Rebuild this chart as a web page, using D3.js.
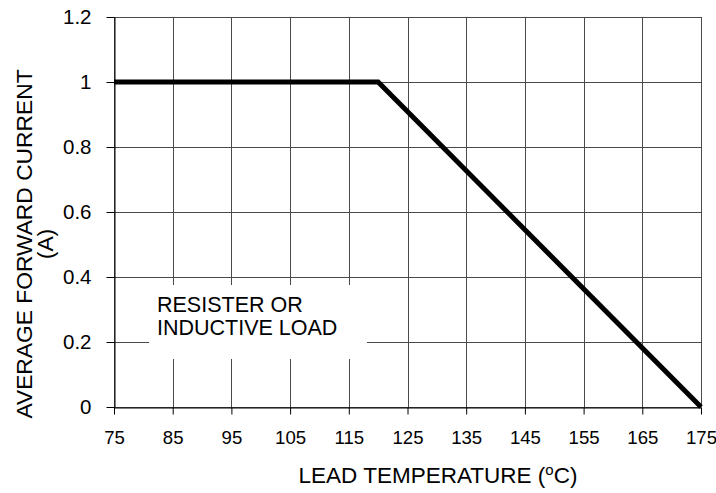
<!DOCTYPE html>
<html>
<head>
<meta charset="utf-8">
<script src="https://cdn.jsdelivr.net/npm/d3@7/dist/d3.min.js"></script>
<style>
  html, body { margin: 0; padding: 0; background: #fff; }
  svg { display: block; font-family: "Liberation Sans", Arial, sans-serif; }
</style>
</head>
<body>
<svg id="chart" width="716" height="493"></svg>
<script>
// ---- data ----
const xTicks = [75, 85, 95, 105, 115, 125, 135, 145, 155, 165, 175];
const yTicks = [0, 0.2, 0.4, 0.6, 0.8, 1, 1.2];
const yTickLabels = ["0", "0.2", "0.4", "0.6", "0.8", "1", "1.2"];
const leadTempC = [75, 120, 175];
const avgCurrentA = [1, 1, 0];
const xTitle = "LEAD TEMPERATURE (";
const yTitleLines = ["AVERAGE FORWARD CURRENT", "(A)"];
const noteLines = ["RESISTER OR", "INDUCTIVE LOAD"];

// ---- layout ----
const svg = d3.select("#chart");
const x = d3.scaleLinear().domain([75, 175]).range([114, 701]);
const y = d3.scaleLinear().domain([0, 1.2]).range([407, 17]);

const gridColor = "#4a4a4a";

// grid
const grid = svg.append("g");
grid.selectAll("line.v").data(xTicks).join("line")
  .attr("class", "v")
  .attr("x1", d => Math.round(x(d)) + 0.5).attr("x2", d => Math.round(x(d)) + 0.5)
  .attr("y1", y(1.2)).attr("y2", y(0))
  .attr("stroke", gridColor).attr("stroke-width", 1);
grid.selectAll("line.h").data(yTicks).join("line")
  .attr("class", "h")
  .attr("x1", x(75)).attr("x2", x(175))
  .attr("y1", d => Math.round(y(d)) + 0.5).attr("y2", d => Math.round(y(d)) + 0.5)
  .attr("stroke", gridColor).attr("stroke-width", 1);

// note box (white background)
svg.append("rect")
  .attr("x", 149).attr("y", 285).attr("width", 218).attr("height", 74)
  .attr("fill", "#fff");
svg.append("text")
  .attr("x", 157).attr("y", 312)
  .attr("font-size", 21.5).attr("fill", "#000")
  .selectAll("tspan").data(noteLines).join("tspan")
  .attr("x", 157).attr("dy", (d, i) => i === 0 ? 0 : 22.6)
  .text(d => d);

// axes
const xAxis = d3.axisBottom(x).tickValues(xTicks).tickFormat(d3.format("d"))
  .tickSizeInner(7).tickSizeOuter(0).tickPadding(16);
const gx = svg.append("g").attr("transform", `translate(0,${Math.round(y(0)) + 0.5})`).call(xAxis);
gx.select(".domain").attr("stroke", "#000");
gx.selectAll(".tick line").attr("stroke", "#000");
gx.selectAll(".tick text").attr("font-size", 18.6).attr("fill", "#000")
  .attr("font-family", "Liberation Sans, Arial, sans-serif");

const yAxis = d3.axisLeft(y).tickValues(yTicks).tickFormat((d, i) => yTickLabels[i])
  .tickSizeInner(8).tickSizeOuter(0).tickPadding(15);
const gy = svg.append("g").attr("transform", `translate(${Math.round(x(75)) + 0.5},0)`).call(yAxis);
gy.select(".domain").attr("stroke", "#000");
gy.selectAll(".tick line").attr("stroke", "#000");
gy.selectAll(".tick text").attr("font-size", 20.5).attr("fill", "#000")
  .attr("font-family", "Liberation Sans, Arial, sans-serif");

// data line
const line = d3.line().x((d, i) => x(leadTempC[i])).y(d => y(d));
svg.append("path")
  .datum(avgCurrentA)
  .attr("d", line)
  .attr("fill", "none").attr("stroke", "#000")
  .attr("stroke-width", 5).attr("stroke-linejoin", "miter").attr("stroke-linecap", "butt");

// x title
const xt = svg.append("text")
  .attr("x", 438).attr("y", 483).attr("text-anchor", "middle")
  .attr("font-size", 22.5).attr("fill", "#000");
xt.append("tspan").text(xTitle);
xt.append("tspan").attr("font-size", 15).attr("dy", -8).text("o");
xt.append("tspan").attr("dy", 8).text("C)");

// y title
const yt = svg.append("text")
  .attr("transform", "translate(32,244) rotate(-90)")
  .attr("text-anchor", "middle").attr("font-size", 22.8).attr("fill", "#000");
yt.selectAll("tspan").data(yTitleLines).join("tspan")
  .attr("x", 0).attr("dy", (d, i) => i === 0 ? 0 : 21)
  .text(d => d);
</script>
</body>
</html>
